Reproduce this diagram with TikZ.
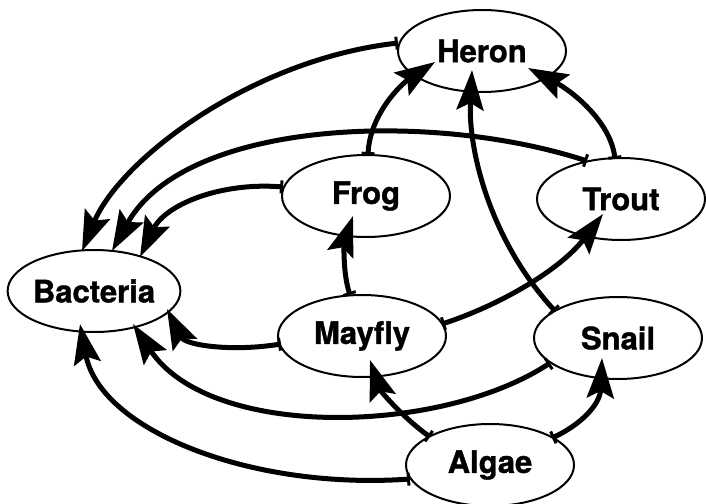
\documentclass[tikz,border=0pt]{standalone}
\usepackage{fontspec}
\setmainfont{TeX Gyre Heros}
\usetikzlibrary{arrows.meta,shapes.geometric,calc}
\begin{document}
\begin{tikzpicture}[x=1pt,y=-1pt,
  species/.style={ellipse, draw, line width=2pt, minimum width=168pt, minimum height=82pt,
    inner sep=0pt, font=\fontsize{31}{36}\selectfont\bfseries\addfontfeature{FakeBold=1.2}},
  flow/.style={line width=5pt,
    {Bar[width=13pt,line width=3pt]}-{Stealth[length=40pt,width=27pt,inset=7pt]}}]
\useasboundingbox (0,0) rectangle (706,503);
\node[species] (heron)  at (482,51)  {Heron};
\node[species] (frog)   at (366,196) {Frog};
\node[species] (trout)  at (621,199) {Trout};
\node[species] (bact)   at (94,291)  {Bacteria};
\node[species] (mayfly) at (362,336) {Mayfly};
\node[species] (snail)  at (618,338) {Snail};
\node[species] (algae)  at (490,465) {Algae};
% into Bacteria
\draw[flow] ($(heron)+(-84,-8)$) .. controls (250,60) and (120,160) .. ($(bact)+(-12,-40)$);
\draw[flow] ($(trout)+(-34,-38)$) .. controls (430,110) and (185,120) .. ($(bact)+(18,-40)$);
\draw[flow] ($(frog)+(-83,-9)$) .. controls (220,182) and (165,205) .. ($(bact)+(46,-34)$);
\draw[flow] ($(mayfly)+(-81,8)$) .. controls (230,352) and (185,345) .. ($(bact)+(73,18)$);
\draw[flow] ($(snail)+(-68,25)$) .. controls (440,435) and (210,440) .. ($(bact)+(39,33)$);
\draw[flow] ($(algae)+(-80,14)$) .. controls (250,490) and (100,430) .. ($(bact)+(-14,33)$);
% into Heron
\draw[flow] ($(frog)+(2,-41)$) .. controls (370,115) and (400,85) .. ($(heron)+(-47,11)$);
\draw[flow] ($(trout)+(-6,-40)$) .. controls (610,120) and (570,90) .. ($(heron)+(46,17)$);
\draw[flow] ($(snail)+(-63,-27)$) .. controls (490,240) and (468,150) .. ($(heron)+(-10,19)$);
% others
\draw[flow] ($(mayfly)+(-12,-41)$) .. controls (342,270) and (345,240) .. ($(frog)+(-13,20)$);
\draw[flow] ($(mayfly)+(80,-12)$) .. controls (500,305) and (560,270) .. ($(trout)+(-18,15)$);
\draw[flow] ($(algae)+(-60,-28)$) .. controls (400,415) and (380,390) .. ($(mayfly)+(8,24)$);
\draw[flow] ($(algae)+(62,-27)$) .. controls (580,425) and (600,405) .. ($(snail)+(-16,20)$);
\end{tikzpicture}
\end{document}
